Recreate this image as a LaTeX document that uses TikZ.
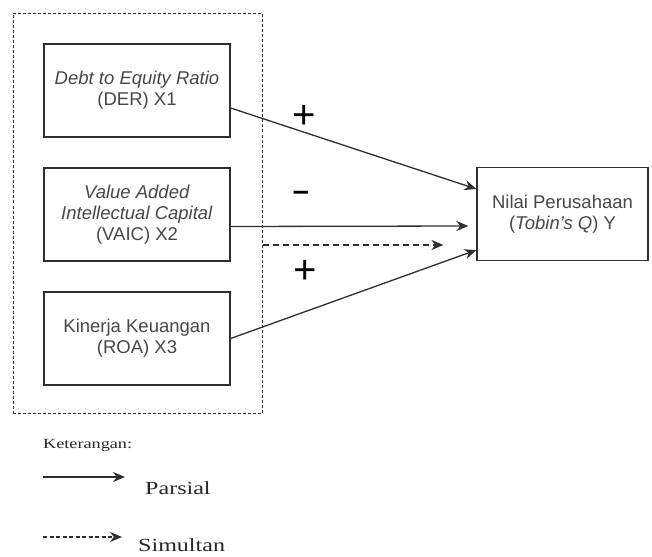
\documentclass[tikz,border=0pt]{standalone}
\usepackage{fontspec}
\setmainfont{Liberation Sans}
\newfontfamily\legendfont[FakeStretch=1.3]{Liberation Serif}
\usetikzlibrary{arrows.meta}
\definecolor{txt}{HTML}{474747}
\definecolor{ln}{HTML}{2E2E2E}
\tikzset{
  varbox/.style={draw=ln, line width=1.2pt, minimum width=186pt, minimum height=93pt,
    align=center, text=txt, font=\fontsize{18.5}{21}\selectfont, inner sep=2pt},
  grpbox/.style={draw=ln, line width=1pt, dash pattern=on 3pt off 2pt},
  conn/.style={draw=ln, line width=1.3pt, -{Stealth[length=12pt,width=10pt]}},
  sconn/.style={conn, dash pattern=on 6pt off 4pt},
  sign/.style={font=\fontsize{40}{40}\selectfont, text=black, inner sep=0pt},
  legtxt/.style={anchor=west, inner sep=0pt, text=black!85},
}
\begin{document}
\begin{tikzpicture}[x=1pt,y=-1pt]
\useasboundingbox (0,0) rectangle (652,556);
\node[grpbox, minimum width=249pt, minimum height=400pt] (grp) at (137.5,213.5) {};
\node[varbox] (b1) at (137,90.5) {\textit{Debt to Equity Ratio}\\(DER) X1};
\node[varbox] (b2) at (137,214.5) {\textit{Value Added}\\\textit{Intellectual Capital}\\(VAIC) X2};
\node[varbox] (b3) at (137,338.5) {Kinerja Keuangan\\(ROA) X3};
\node[varbox, minimum width=171pt] (y) at (562.5,214) {Nilai Perusahaan\\(\textit{Tobin's Q}) Y};

\draw[conn] ([yshift=-17.5pt]b1.east) -- ([yshift=25pt]y.west);
\draw[conn] ([yshift=-12pt]b2.east) -- ([xshift=-8pt,yshift=-12pt]y.west);
\draw[sconn] ([yshift=-31.5pt]grp.east) -- ([xshift=-33pt,yshift=-31pt]y.west);
\draw[conn] (b3.east) -- ([yshift=-36pt]y.west);

\node[sign] (p1) at (304,117) {+};
\node[sign, font=\fontsize{29}{29}\selectfont\bfseries] (m1) at (301,196) {–};
\node[sign] (p2) at (305,272) {+};

\node[legtxt, font=\legendfont\fontsize{14}{15}\selectfont] (ket) at (43,445) {Keterangan:};
\coordinate (la1) at (43,477);
\coordinate (la2) at (125,477);
\draw[conn, line width=1.6pt] (la1) -- (la2);
\node[legtxt, font=\legendfont\fontsize{18.5}{20}\selectfont] (par) at (145,488) {Parsial};
\coordinate (lb1) at (43,537);
\coordinate (lb2) at (122,537);
\draw[sconn, line width=1.2pt, dash pattern=on 4pt off 2.5pt] (lb1) -- (lb2);
\node[legtxt, font=\legendfont\fontsize{18.5}{20}\selectfont] (sim) at (138,545) {Simultan};
\end{tikzpicture}
\end{document}
